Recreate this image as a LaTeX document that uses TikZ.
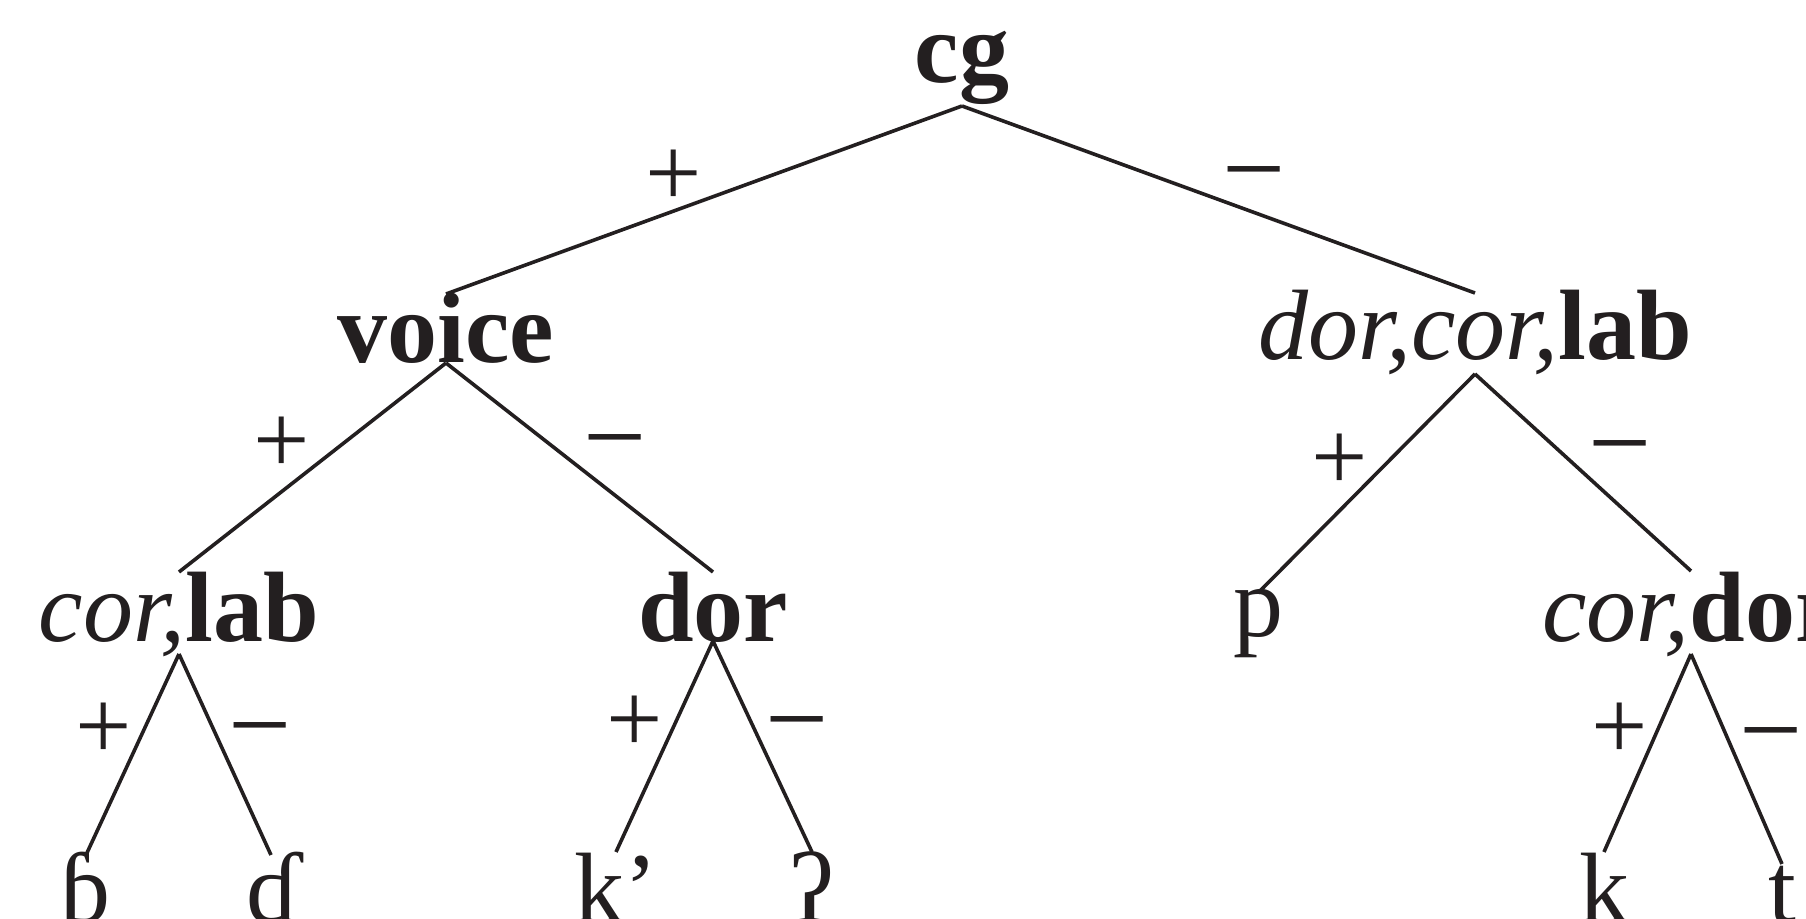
\documentclass[tikz,border=0pt]{standalone}
\usepackage{fontspec}
\setmainfont{Liberation Serif}
\definecolor{ink}{HTML}{231F20}
\begin{document}
\begin{tikzpicture}[x=0.5pt,y=-0.5pt,
  every node/.style={inner sep=0pt,outer sep=0pt,text=ink,font=\fontsize{50}{60}\selectfont},
  nd/.style 2 args={anchor=base,text height=#1,text depth=#2},
  br/.style={draw=ink,line width=1.8pt},
  sg/.style={anchor=center},
  mn/.style={anchor=center,yshift=-10pt,font=\fontsize{56}{60}\selectfont}]
\useasboundingbox (0,0) rectangle (1806,919);
\clip (0,0) rectangle (1806,919);
% nodes
\node[nd={30pt}{11.5pt}] (cg) at (962,83) {\textbf{cg}};
\node[nd={34.5pt}{0pt}] (voice) at (446,363) {\textbf{voice}};
\node[nd={33.5pt}{7pt}] (dcl) at (1475,360) {\textit{dor,cor,}\textbf{lab}};
\node[nd={34.5pt}{6.5pt}] (corlab) at (179,641) {\textit{cor,}\textbf{lab}};
\node[nd={34.5pt}{0pt}] (dor) at (713,641) {\textbf{dor}};
\node[nd={22pt}{0pt}] (p) at (1258,637) {p};
\node[nd={35pt}{6.5pt}] (cordor) at (1691,641) {\textit{cor,}\textbf{dor}};
\node[nd={33.5pt}{0pt}] (b) at (86,922) {ɓ};
\node[nd={33.5pt}{0pt}] (d) at (271,922) {ɗ};
\node[nd={35pt}{0pt}] (kp) at (616,922) {k’};
\node[nd={35pt}{0pt}] (q) at (812,922) {ʔ};
\node[nd={35pt}{0pt}] (k) at (1604,922) {k};
\node[nd={29pt}{0pt}] (t) at (1782,922) {t};
% branches
\draw[br] (cg.south) -- (voice.north);
\draw[br] (cg.south) -- (dcl.north);
\draw[br] (voice.south) -- (corlab.north);
\draw[br] (voice.south) -- (dor.north);
\draw[br] (dcl.south) -- (p.north);
\draw[br] (dcl.south) -- (cordor.north);
\draw[br] (corlab.south) -- (b.north);
\draw[br] (corlab.south) -- (d.north);
\draw[br] (dor.south) -- (kp.north);
\draw[br] (dor.south) -- (q.north);
\draw[br] (cordor.south) -- (k.north);
\draw[br] (cordor.south) -- (t.north);
% branch labels
\node[sg] (l1) at (674,178) {+};
\node[mn] (l2) at (1254,167) {−};
\node[sg] (l3) at (282,445) {+};
\node[mn] (l4) at (615,435) {−};
\node[sg] (l5) at (1340,462) {+};
\node[mn] (l6) at (1620,441) {−};
\node[sg] (l7) at (104,731) {+};
\node[mn] (l8) at (260,723) {−};
\node[sg] (l9) at (635,724) {+};
\node[mn] (l10) at (797,717) {−};
\node[sg] (l11) at (1620,731) {+};
\node[mn] (l12) at (1771,728) {−};
\end{tikzpicture}
\end{document}
